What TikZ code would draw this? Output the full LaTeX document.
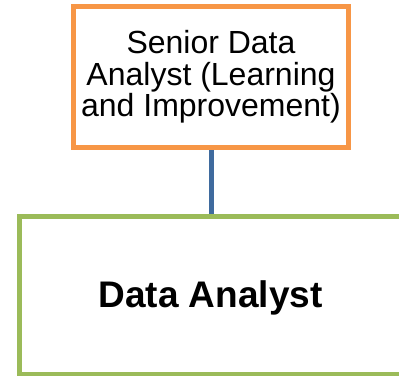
\documentclass[tikz,border=0pt]{standalone}
\usepackage{fontspec}
\setmainfont{Liberation Sans}
\definecolor{boxorange}{HTML}{F79646}
\definecolor{boxgreen}{HTML}{9BBB59}
\definecolor{linkblue}{HTML}{3F6B9E}
\begin{document}
\begin{tikzpicture}[x=1pt,y=-1pt,
  rolebox/.style={draw, line width=5pt, fill=white, inner sep=0pt, align=center},
  link/.style={draw=linkblue, line width=5pt}]
  \useasboundingbox (0,0) rectangle (399,375);
  \clip (0,0) rectangle (399,375);
  % lower role, running past the right and bottom edges
  \node[rolebox, draw=boxgreen, minimum width=383pt, minimum height=158pt,
        text depth=4pt, font=\fontsize{37}{40}\selectfont\bfseries]
    (analyst) at (210.5,295.7) {Data Analyst};
  % upper role
  \node[rolebox, draw=boxorange, minimum width=275pt, minimum height=141pt,
        font=\fontsize{32}{31.5}\selectfont]
    (senior) at (211,77) {Senior Data\\Analyst (Learning\\and Improvement)};
  \draw[link] (senior.south) -- (senior.south |- analyst.north);
\end{tikzpicture}
\end{document}
